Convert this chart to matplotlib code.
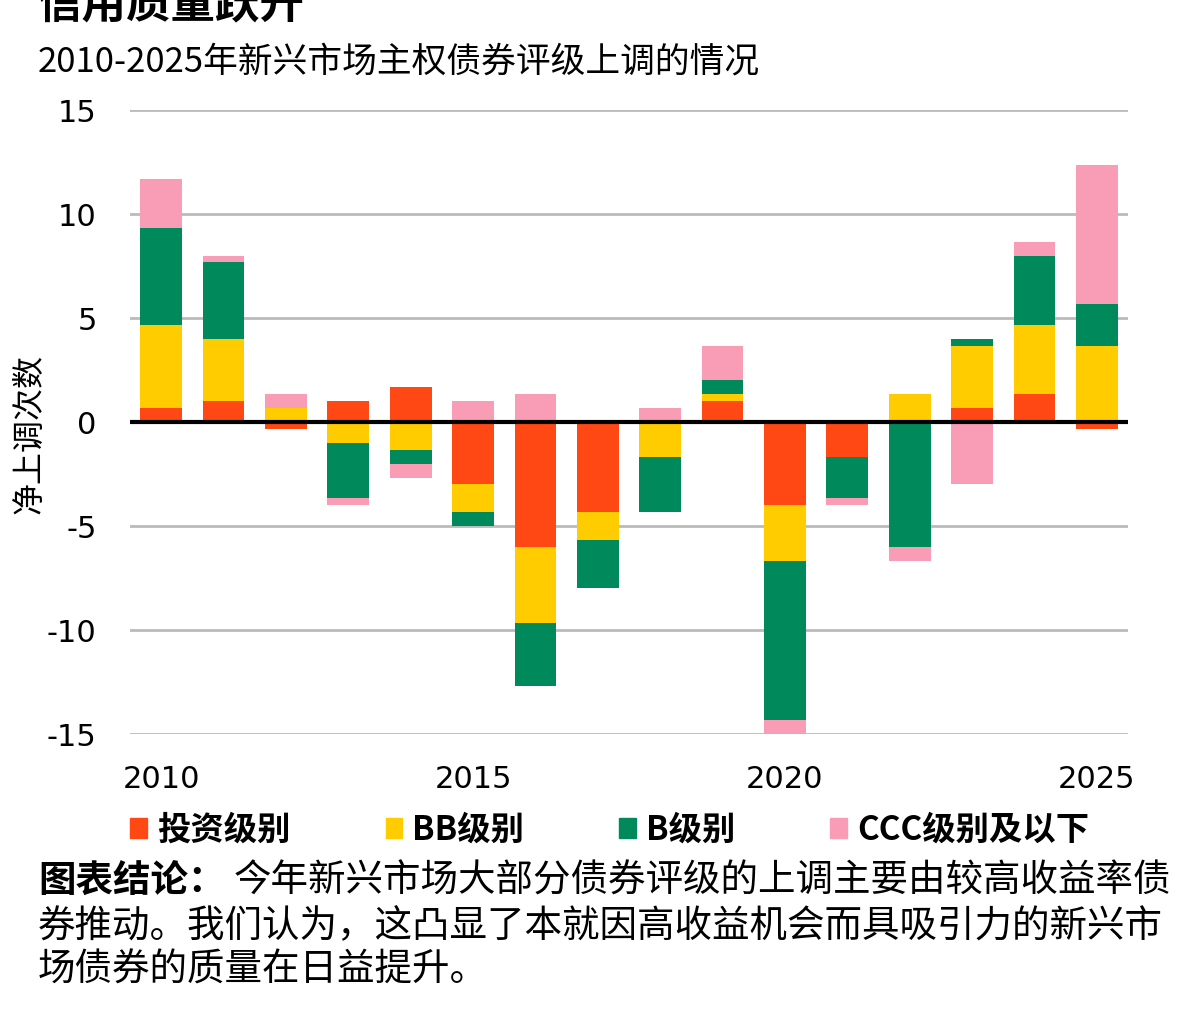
import numpy as np
import matplotlib.pyplot as plt
from matplotlib.patches import Patch

plt.rcParams['font.family'] = ['Noto Sans CJK SC', 'DejaVu Sans']

# datos (conteo neto de mejoras de calificación por año)
years = np.arange(2010, 2026)
invest = [0.67, 1.0, -0.33, 1.0, 1.67, -3.0, -6.0, -4.33, 0, 1.0, -4.0, -1.67, 0, 0.67, 1.33, -0.33]
bb = [4.0, 3.0, 0.67, -1.0, -1.33, -1.33, -3.67, -1.33, -1.67, 0.33, -2.67, 0, 1.33, 3.0, 3.33, 3.67]
b = [4.67, 3.67, 0, -2.67, -0.67, -0.67, -3.0, -2.33, -2.67, 0.67, -7.67, -2.0, -6.0, 0.33, 3.33, 2.0]
ccc = [2.33, 0.33, 0.67, -0.33, -0.67, 1.0, 1.33, 0, 0.67, 1.67, -0.67, -0.33, -0.67, -3.0, 0.67, 6.67]

names = ['投资级别', 'BB级别', 'B级别', 'CCC级别及以下']
colores = ['#FF4814', '#FFCC00', '#00895A', '#F99DB6']
yticks = [15, 10, 5, 0, -5, -10, -15]
xticks = [2010, 2015, 2020, 2025]

fig = plt.figure(figsize=(11.89, 10.13), dpi=100)
ax = fig.add_axes([130/1189, 1-734/1013, 998/1189, 624/1013])

#apilar positivos y negativos por separado
pos = np.zeros(len(years))
neg = np.zeros(len(years))
for serie, col in zip([invest, bb, b, ccc], colores):
    v = np.array(serie, dtype=float)
    base = np.where(v >= 0, pos, neg)
    ax.bar(years, v, bottom=base, width=0.67, color=col, zorder=2)
    pos = pos + np.where(v > 0, v, 0)
    neg = neg + np.where(v < 0, v, 0)

ax.axhline(0, color='black', lw=3, zorder=3)
ax.set_xlim(2009.5, 2025.5)
ax.set_ylim(-15, 15)
ax.set_yticks(yticks)
ax.set_xticks(xticks)
ax.set_yticklabels([str(t) for t in yticks], family='DejaVu Sans')
ax.set_xticklabels([str(t) for t in xticks], family='DejaVu Sans')
ax.tick_params(axis='y', length=0, labelsize=22, pad=24)
ax.tick_params(axis='x', length=0, labelsize=22, pad=22)
ax.yaxis.grid(True, color='#BBBBBB', lw=2, zorder=0)
ax.set_axisbelow(True)
for s in ax.spines.values():
    s.set_visible(False)

fig.text(30/1189, 1-434/1013, '净上调次数', rotation=90, fontsize=23,
         ha='center', va='center')

#titulos
fig.text(38/1189, 1-27/1013, '信用质量跃升', fontsize=32, fontweight='bold',
         ha='left', va='bottom')
fig.text(38/1189, 1-62/1013, '2010-2025年新兴市场主权债券评级上调的情况', fontsize=25,
         ha='left', va='center')

#leyenda
handles = [Patch(color=c) for c in colores]
leg = fig.legend(handles, names, loc='center left', bbox_to_anchor=(117/1189, 1-830/1013),
                 ncol=4, frameon=False, prop={'size': 24, 'weight': 'bold'},
                 handlelength=0.5, handleheight=0.55, handletextpad=0.3,
                 columnspacing=2.85, borderaxespad=0)

#conclusion
renderer = fig.canvas.get_renderer()
t1 = fig.text(38/1189, 1-881/1013, '图表结论：', fontsize=27, fontweight='bold',
              ha='left', va='center')
bb1 = t1.get_window_extent(renderer)
x2 = (bb1.x1 + 8) / fig.bbox.width
fig.text(x2, 1-881/1013, '今年新兴市场大部分债券评级的上调主要由较高收益率债',
         fontsize=27, style='italic', ha='left', va='center')
fig.text(38/1189, 1-927/1013, '券推动。我们认为，这凸显了本就因高收益机会而具吸引力的新兴市',
         fontsize=27, style='italic', ha='left', va='center')
fig.text(38/1189, 1-970/1013, '场债券的质量在日益提升。',
         fontsize=27, style='italic', ha='left', va='center')

plt.savefig('out.png', dpi=100)
